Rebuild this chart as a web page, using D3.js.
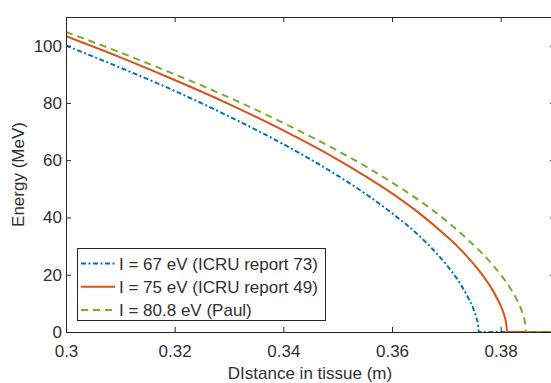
<!DOCTYPE html>
<html>
<head>
<meta charset="utf-8">
<script src="https://cdn.jsdelivr.net/npm/d3@7"></script>
<style>
  body { margin: 0; background: #fff; }
  text { font-family: "Liberation Sans", Arial, sans-serif; fill: #303030; }
</style>
</head>
<body>
<div id="main"></div>
<script>
/* Define Size */
const width = 551, height = 383;
const margin = {left: 66, top: 17, right: 555, bottom: 332};

/* Define Data */
const distBlue   = [0.300, 0.310, 0.320, 0.330, 0.340, 0.350, 0.355, 0.360, 0.365, 0.370, 0.372, 0.374, 0.375, 0.3755, 0.3758, 0.3760, 0.390];
const energyBlue = [100.0, 92.3, 84.2, 75.3, 65.6, 54.6, 48.4, 41.5, 33.6, 23.5, 18.5, 12.0, 8.0, 5.2, 3.0, 0, 0];

const distRed    = [0.300, 0.310, 0.320, 0.330, 0.340, 0.350, 0.355, 0.360, 0.365, 0.370, 0.372, 0.374, 0.376, 0.378, 0.379, 0.380, 0.3806, 0.3810, 0.3812, 0.390];
const energyRed  = [103.3, 95.9, 88.0, 79.6, 70.4, 60.2, 54.5, 48.4, 41.5, 33.5, 30.0, 26.0, 21.5, 16.2, 13.0, 9.2, 6.2, 3.2, 0, 0];

const distGreen   = [0.300, 0.310, 0.320, 0.330, 0.340, 0.350, 0.355, 0.360, 0.365, 0.370, 0.374, 0.376, 0.378, 0.380, 0.382, 0.383, 0.3838, 0.3844, 0.3847, 0.390];
const energyGreen = [104.8, 97.6, 90.0, 81.9, 73.0, 63.3, 58.0, 52.2, 46.0, 38.8, 32.2, 28.6, 24.6, 20.0, 14.6, 11.2, 7.8, 4.0, 0, 0];

const labels = ["I = 67 eV (ICRU report 73)", "I = 75 eV (ICRU report 49)", "I = 80.8 eV (Paul)"];
const colors = ["#0072BD", "#D95319", "#77AC30"];
const dashes = ["5,2.5,2,2.5", null, "7,5"];

const xTicks = [0.30, 0.32, 0.34, 0.36, 0.38];
const yTicks = [0, 20, 40, 60, 80, 100];

const series = [
  distBlue.map((d, i) => [d, energyBlue[i]]),
  distRed.map((d, i) => [d, energyRed[i]]),
  distGreen.map((d, i) => [d, energyGreen[i]])
];

/* Scales */
const x = d3.scaleLinear().domain([0.3, 0.39]).range([margin.left, margin.right]);
const y = d3.scaleLinear().domain([0, 110]).range([margin.bottom, margin.top]);

const svg = d3.select("#main").append("svg").attr("width", width).attr("height", height);

svg.append("defs").append("clipPath").attr("id", "clip")
  .append("rect")
  .attr("x", margin.left).attr("y", margin.top)
  .attr("width", margin.right - margin.left).attr("height", margin.bottom - margin.top);

/* Draw the lines */
const line = d3.line().x(d => x(d[0])).y(d => y(d[1])).curve(d3.curveMonotoneX);

svg.append("g").attr("clip-path", "url(#clip)")
  .selectAll("path")
  .data(series)
  .enter()
  .append("path")
  .attr("d", line)
  .attr("fill", "none")
  .attr("stroke", (d, i) => colors[i])
  .attr("stroke-width", 2)
  .attr("stroke-dasharray", (d, i) => dashes[i]);

/* Axes (ticks inside, box) */
const axisColor = "#262626";
const tickLen = 5;
const fontSize = "17px";

const gx = svg.append("g").attr("transform", `translate(0,${margin.bottom})`)
  .call(d3.axisBottom(x).tickValues(xTicks).tickSizeInner(-tickLen).tickSizeOuter(0)
    .tickPadding(13).tickFormat(d => d3.format("")(+d.toFixed(2))));
const gxTop = svg.append("g").attr("transform", `translate(0,${margin.top})`)
  .call(d3.axisTop(x).tickValues(xTicks).tickSizeInner(-tickLen).tickSizeOuter(0).tickFormat(""));
const gy = svg.append("g").attr("transform", `translate(${margin.left},0)`)
  .call(d3.axisLeft(y).tickValues(yTicks).tickSizeInner(-tickLen).tickSizeOuter(0).tickPadding(4));
const gyRight = svg.append("g").attr("transform", `translate(${margin.right},0)`)
  .call(d3.axisRight(y).tickValues(yTicks).tickSizeInner(-tickLen).tickSizeOuter(0).tickFormat(""));

[gx, gxTop, gy, gyRight].forEach(g => {
  g.select(".domain").attr("stroke", axisColor).attr("stroke-width", 1);
  g.selectAll(".tick line").attr("stroke", axisColor);
  g.selectAll(".tick text").style("font-size", fontSize).attr("fill", "#303030")
    .style("font-family", '"Liberation Sans", Arial, sans-serif');
});

/* Axis labels */
svg.append("text")
  .attr("x", 310)
  .attr("y", 379)
  .attr("text-anchor", "middle")
  .style("font-size", fontSize)
  .text("DIstance in tissue (m)");

svg.append("text")
  .attr("transform", `translate(23.5,${(margin.top + margin.bottom) / 2}) rotate(-90)`)
  .attr("text-anchor", "middle")
  .style("font-size", fontSize)
  .text("Energy (MeV)");

/* Legend */
const legend = svg.append("g");
legend.append("rect")
  .attr("x", 77.5).attr("y", 248.5)
  .attr("width", 248).attr("height", 72)
  .attr("fill", "#fff").attr("stroke", axisColor).attr("stroke-width", 1);

const rows = legend.selectAll("g.row")
  .data(labels)
  .enter()
  .append("g")
  .attr("class", "row")
  .attr("transform", (d, i) => `translate(0,${263.5 + i * 23.3})`);

rows.append("line")
  .attr("x1", 81).attr("x2", 115)
  .attr("stroke", (d, i) => colors[i])
  .attr("stroke-width", 2)
  .attr("stroke-dasharray", (d, i) => dashes[i]);

rows.append("text")
  .attr("x", 119)
  .attr("dy", "0.36em")
  .style("font-size", fontSize)
  .text(d => d);
</script>
</body>
</html>
